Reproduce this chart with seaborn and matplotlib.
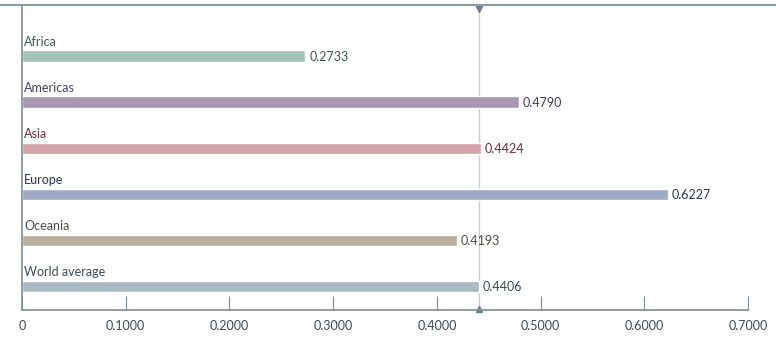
import pandas as pd
import matplotlib
matplotlib.use("Agg")
import matplotlib.pyplot as plt
import seaborn as sns
from matplotlib.lines import Line2D

regions = ["Africa", "Americas", "Asia", "Europe", "Oceania", "World average"]
values = [0.2733, 0.4790, 0.4424, 0.6227, 0.4193, 0.4406]
bar_colors = ["#a4c2b5", "#a597b4", "#d5a4a7", "#9eaac5", "#b8af9f", "#a9bac4"]
text_colors = ["#3c5a50", "#4a3c5c", "#6e2c3c", "#2c3754", "#4c4a40", "#3c4a56"]
x_ticks = [0, 0.1, 0.2, 0.3, 0.4, 0.5, 0.6, 0.7]
x_tick_labels = ["0", "0.1000", "0.2000", "0.3000", "0.4000", "0.5000", "0.6000", "0.7000"]
world_average = 0.4406

df = pd.DataFrame({"region": regions, "value": values})

sns.set_style("white")
plt.rcParams["font.family"] = ["Lato", "DejaVu Sans"]

fig = plt.figure(figsize=(7.76, 3.44), dpi=100)
ax = fig.add_axes([22 / 776, 1 - 310 / 344, 726 / 776, 303 / 344])

sns.barplot(data=df, x="value", y="region", hue="region", palette=bar_colors,
            orient="h", width=0.24, legend=False, ax=ax, saturation=1)

ax.set_xlim(0, 0.7)
ax.set_ylim(5.52, -1.065)

# region labels above bars, values after the bar end
for i, (name, val) in enumerate(zip(regions, values)):
    ax.text(0.002, i - 0.17, name, color=text_colors[i], fontsize=9,
            ha="left", va="bottom")
    ax.text(val + 0.004, i + 0.02, f"{val:.4f}", color=text_colors[i], fontsize=9,
            ha="left", va="center")

# world average reference line with markers
ax.axvline(world_average, color="#c3cdd2", lw=1, zorder=0)
ax.plot([world_average], [-1.02], marker="v", color="#6d7f88", markersize=4, clip_on=False)
ax.plot([world_average], [5.49], marker="^", color="#6d7f88", markersize=4, clip_on=False)

# axes styling
for side in ["top", "right"]:
    ax.spines[side].set_visible(False)
ax.spines["left"].set_color("#7d8e96")
ax.spines["bottom"].set_color("#7d8e96")
ax.spines["left"].set_linewidth(1.2)
ax.spines["bottom"].set_linewidth(1.2)

ax.set_xticks(x_ticks)
ax.set_xticklabels(x_tick_labels, color="#3c4a56", fontsize=9)
ax.tick_params(axis="x", direction="in", length=10, color="#7d8e96", pad=7, bottom=True)
ax.set_yticks([])
ax.set_xlabel("")
ax.set_ylabel("")

# top rule across the figure
fig.add_artist(Line2D([0, 1], [1 - 5 / 344, 1 - 5 / 344], color="#8c9aa2", lw=1.5))

fig.savefig("out.png", dpi=100)
